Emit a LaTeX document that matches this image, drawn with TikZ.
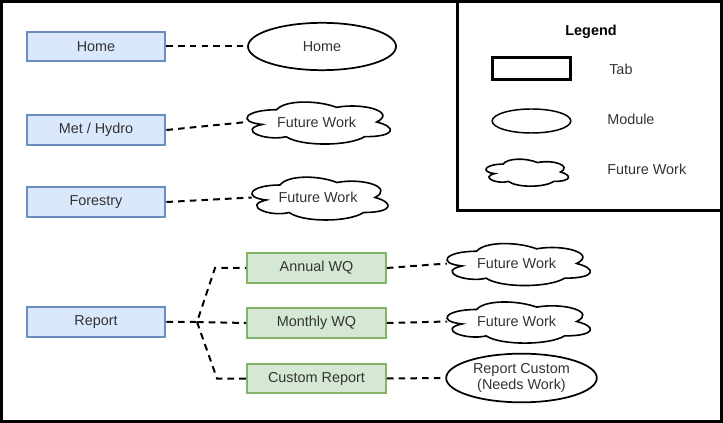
\documentclass[tikz,border=0pt]{standalone}
\usepackage{fontspec}
\setmainfont{Liberation Sans}
\usetikzlibrary{shapes.geometric}
\definecolor{tabfill}{HTML}{DAE8FC}
\definecolor{tabline}{HTML}{6C8EBF}
\definecolor{subfill}{HTML}{D5E8D4}
\definecolor{subline}{HTML}{82B366}
\definecolor{txt}{HTML}{333333}
% cloud outline around a named node: #1 node, #2 width, #3 height (px)
\newcommand\cloudaround[3]{%
  \begin{scope}[shift={(#1.center)}, x={(#2*0.75pt,0)}, y={(0,-#3*0.75pt)}]
    \draw[cloudline] (-0.25,-0.25)
      .. controls (-0.45,-0.25) and (-0.5,0) .. (-0.34,0.05)
      .. controls (-0.5,0.16) and (-0.32,0.4) .. (-0.19,0.3)
      .. controls (-0.1,0.5) and (0.2,0.5) .. (0.3,0.3)
      .. controls (0.5,0.3) and (0.5,0.1) .. (0.375,0)
      .. controls (0.5,-0.2) and (0.3,-0.4) .. (0.125,-0.3)
      .. controls (0,-0.45) and (-0.2,-0.45) .. (-0.25,-0.25) -- cycle;
  \end{scope}}
\begin{document}
\begin{tikzpicture}[x=0.75pt, y=-0.75pt,
  font=\fontsize{10.8pt}{12.6pt}\selectfont, text=txt,
  tabbox/.style={rectangle, draw=tabline, fill=tabfill, line width=1.5pt,
    minimum width=104pt, minimum height=22pt, inner sep=0pt},
  subbox/.style={rectangle, draw=subline, fill=subfill, line width=1.5pt,
    minimum width=104pt, minimum height=22pt, inner sep=0pt},
  module/.style={ellipse, draw=black, line width=1.3pt, inner sep=0pt, align=center},
  cloudlabel/.style={rectangle, inner sep=0pt},
  cloudline/.style={draw=black, line width=1.2pt},
  link/.style={draw=black, line width=1.5pt, dash pattern=on 5pt off 3.8pt},
  legendtext/.style={anchor=west, inner sep=0pt}]
\useasboundingbox (0,0) rectangle (723,423);

% outer frame and legend box
\draw[line width=2.25pt] (1.5,1.5) rectangle (721.5,421.5);
\draw[line width=1.9pt] (457.5,0) |- (721,210.5);

% legend
\node[font=\bfseries\fontsize{10.8pt}{12.6pt}\selectfont, text=black] (legtitle) at (591,32) {Legend};
\node[rectangle, draw=black, line width=2.2pt, minimum width=58.5pt, minimum height=16.5pt, inner sep=0pt] (legtab) at (531.5,68.5) {};
\node[legendtext] (legtabtxt) at (609,69) {Tab};
\node[ellipse, draw=black, line width=1.1pt, minimum width=59pt, minimum height=18pt, inner sep=0pt] (legmod) at (531.5,121) {};
\node[legendtext] (legmodtxt) at (607,119) {Module};
\node[cloudlabel, minimum width=60pt, minimum height=14pt] (legcloud) at (526,172) {};
\cloudaround{legcloud}{92}{31.5}
\node[legendtext] (legcloudtxt) at (607,169) {Future Work};

% tabs
\node[tabbox] (home) at (96,46.5) {Home};
\node[tabbox] (met) at (96,130) {Met / Hydro};
\node[tabbox] (forestry) at (96,202) {Forestry};
\node[tabbox] (report) at (96,322) {Report};

% modules
\node[module, minimum width=111pt, minimum height=35.5pt] (homemod) at (322,46.5) {Home};
\node[cloudlabel, minimum width=104pt, minimum height=22pt] (metcloud) at (316.6,122) {Future Work};
\cloudaround{metcloud}{160}{49}
\node[cloudlabel, minimum width=99pt, minimum height=22pt] (forcloud) at (318,197.5) {Future Work};
\cloudaround{forcloud}{152}{50}

% report sub-tabs
\node[subbox] (annual) at (316.5,268) {Annual WQ};
\node[subbox] (monthly) at (316.5,323) {Monthly WQ};
\node[subbox] (custom) at (316.5,378.5) {Custom Report};

\node[cloudlabel, minimum width=104pt, minimum height=22pt] (anncloud) at (516.6,263.5) {Future Work};
\cloudaround{anncloud}{160}{49}
\node[cloudlabel, minimum width=104pt, minimum height=22pt] (moncloud) at (516.6,321.5) {Future Work};
\cloudaround{moncloud}{160}{48}
\node[module, minimum width=113pt, minimum height=36.5pt] (custmod) at (521.5,378) {Report Custom\\(Needs Work)};

% connectors
\draw[link] (home.east) -- (homemod.west);
\draw[link] (met.east) -- (metcloud.west);
\draw[link] (forestry.east) -- (forcloud.west);

\coordinate (split) at (197,322);
\coordinate (upbend) at (215,268);
\coordinate (lowbend) at (217,378.5);
\draw[link] (report.east) -- (split) -- (upbend) -- (annual.west);
\draw[link] (split) -- (monthly.west);
\draw[link] (split) -- (lowbend) -- (custom.west);

\draw[link] (annual.east) -- (anncloud.west);
\draw[link] (monthly.east) -- (moncloud.west);
\draw[link] (custom.east) -- (custmod.west);
\end{tikzpicture}
\end{document}
